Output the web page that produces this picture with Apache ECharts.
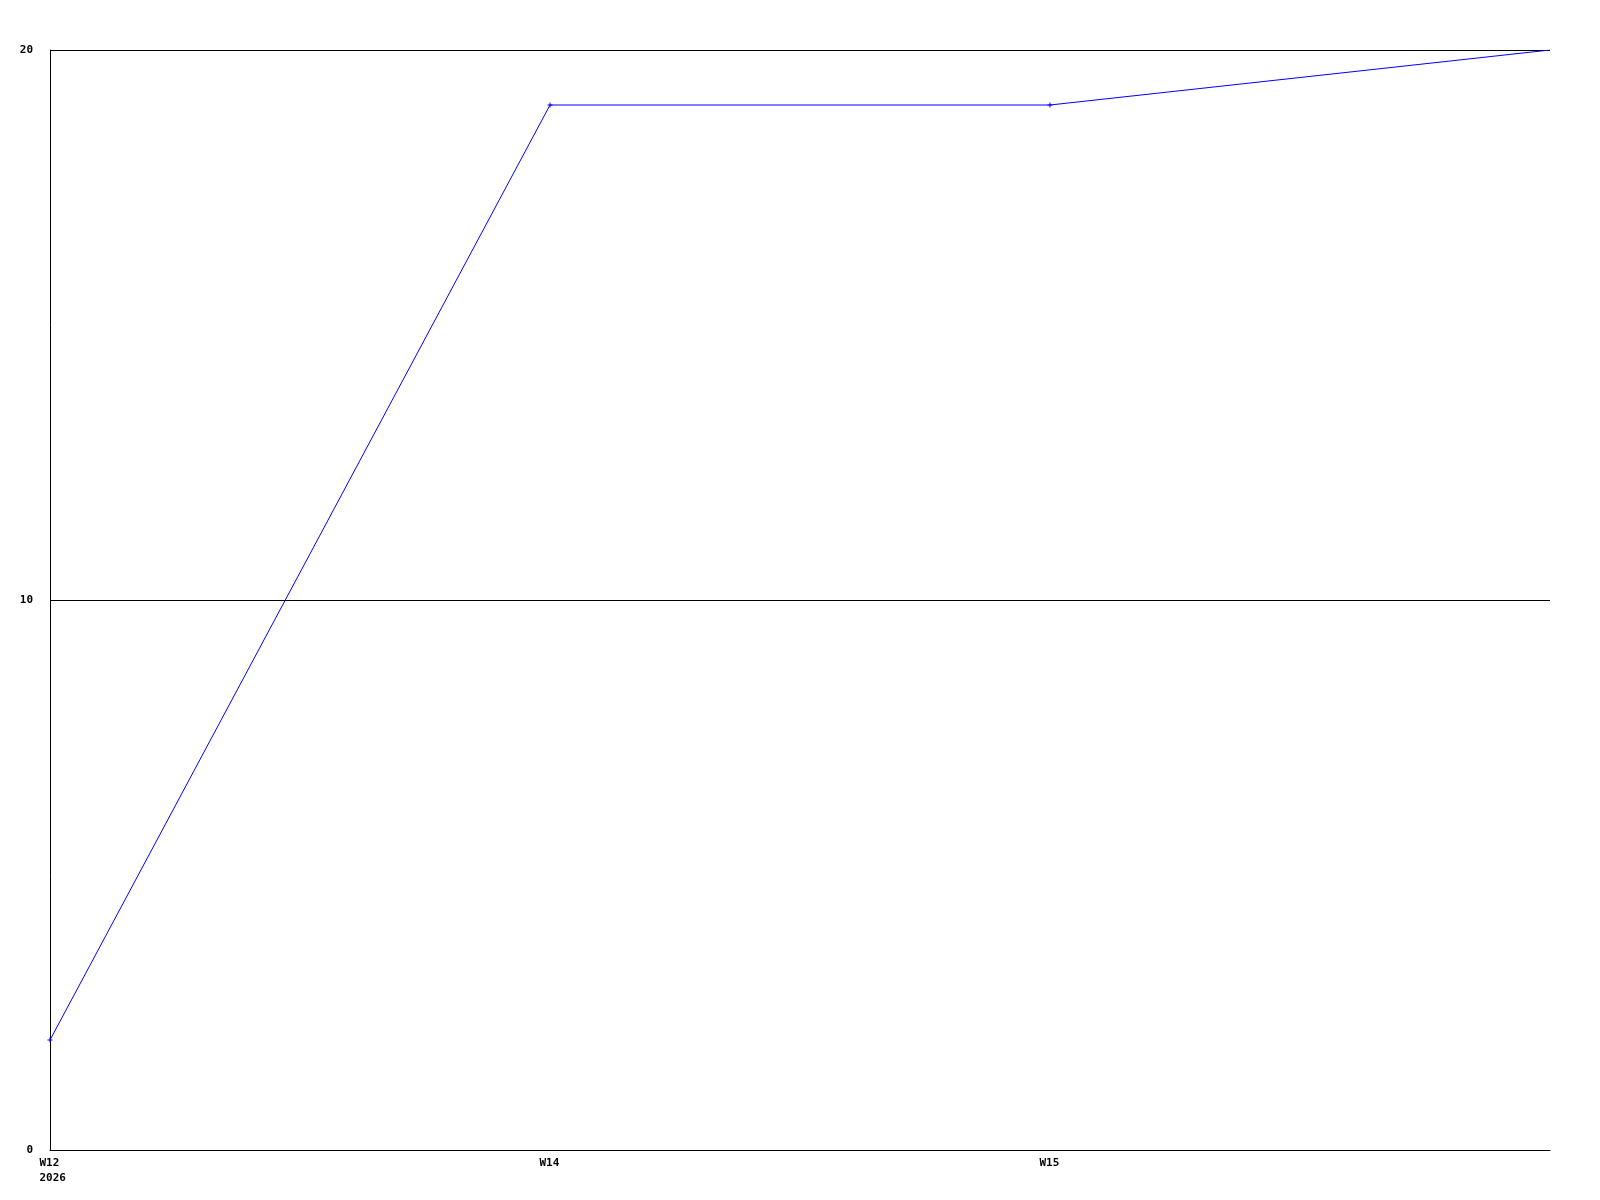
<!DOCTYPE html>
<html>
<head>
<meta charset="utf-8">
<style>html,body{margin:0;padding:0;background:#fff;}#chart{width:1600px;height:1200px;}</style>
<script src="https://cdn.jsdelivr.net/npm/echarts@6/dist/echarts.min.js"></script>
</head>
<body>
<div id="chart"></div>
<script>
var categories = ['W12\n2026', 'W14', 'W15', ''];
var values = [2, 19, 19, 20];
var yTicks = [0, 10, 20];

var chart = echarts.init(document.getElementById('chart'), null, {renderer: 'canvas'});
var font = '"DejaVu Sans Mono", monospace';
var seriesData = values.map(function (v, i) {
  return i === values.length - 1 ? {value: v, symbol: 'none'} : v;
});
chart.setOption({
  animation: false,
  backgroundColor: '#ffffff',
  grid: {left: 50, right: 50, top: 50, bottom: 50, containLabel: false},
  xAxis: {
    type: 'category',
    data: categories,
    boundaryGap: false,
    axisLine: {lineStyle: {color: '#000', width: 1}},
    axisTick: {show: false},
    splitLine: {show: false},
    axisLabel: {
      interval: 0,
      margin: 6,
      formatter: function (v) {
        if (!v) return '';
        return v.split('\n').map(function (s) { return '{a|' + s + '}'; }).join('\n');
      },
      rich: {
        a: {fontFamily: font, fontWeight: 'bold', fontSize: 11, color: '#000', lineHeight: 15, width: 21, align: 'left'}
      }
    }
  },
  yAxis: {
    type: 'value',
    min: yTicks[0],
    max: yTicks[yTicks.length - 1],
    interval: 10,
    axisLine: {show: true, lineStyle: {color: '#000', width: 1}},
    axisTick: {show: false},
    splitLine: {show: true, lineStyle: {color: '#000', width: 1}},
    axisLabel: {margin: 17, fontFamily: font, fontWeight: 'bold', fontSize: 11, color: '#000'}
  },
  series: [{
    type: 'line',
    data: seriesData,
    symbol: 'path://M2,0 L3,0 L3,2 L5,2 L5,3 L3,3 L3,5 L2,5 L2,3 L0,3 L0,2 L2,2 Z',
    symbolSize: 5,
    showAllSymbol: true,
    itemStyle: {color: '#0000ff'},
    lineStyle: {color: '#0000ff', width: 1}
  }]
});
</script>
</body>
</html>
